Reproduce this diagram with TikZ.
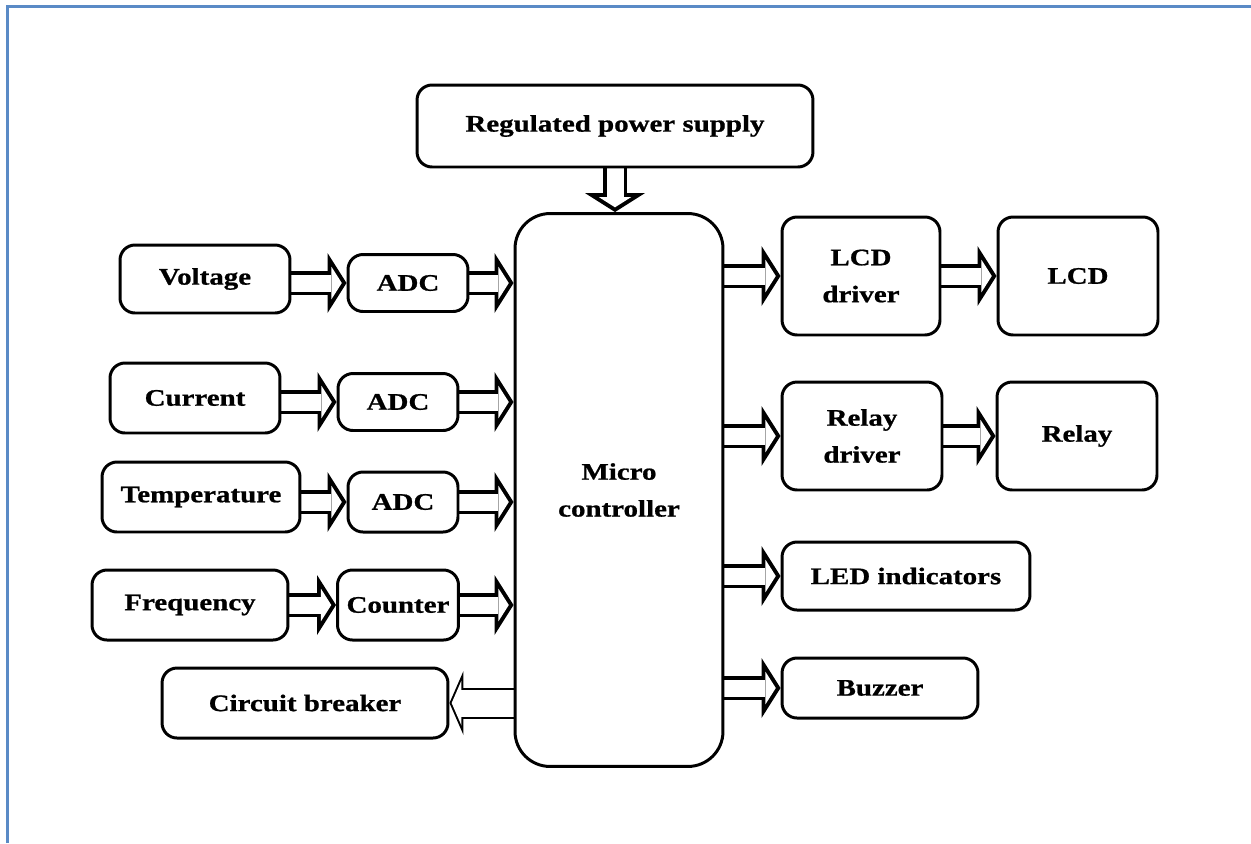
\documentclass[tikz,border=0pt]{standalone}
\usepackage{fontspec}
\newfontfamily\blockfont{Liberation Serif}[FakeStretch=1.22,BoldFeatures={FakeBold=0.8}]
\usepackage{tikz}
\usetikzlibrary{arrows.meta,positioning,calc,backgrounds}
\definecolor{pageblue}{HTML}{5A8AC6}
\tikzset{
  % blokker
  blk/.style={draw,rounded corners=0.3cm,line width=1.7pt,inner sep=0pt,
              align=center,font=\blockfont\bfseries\fontsize{13.5}{21}\selectfont},
  sz/.style 2 args={minimum width=#1cm,minimum height=#2cm},
  mcu/.style={blk,rounded corners=0.7cm},
  % pile (hule blokkpiler)
  dbl/.style={draw,line width=0.48cm,
              -{Triangle[length=0.38cm,width=1.2cm,line width=0pt]},
              postaction={draw=white,line width=0.34cm,shorten >=0.095cm,
              -{Triangle[length=0.206cm,width=0.65cm,line width=0pt]}}},
  dblthin/.style={draw,line width=0.62cm,
              -{Triangle[length=0.28cm,width=1.28cm,line width=0pt]},
              postaction={draw=white,line width=0.54cm,shorten >=0.044cm,
              -{Triangle[length=0.196cm,width=0.9cm,line width=0pt]}}},
  frame/.style={draw=pageblue,line width=1.6pt},
}
\begin{document}
\begin{tikzpicture}[x=0.02cm,y=-0.02cm]
  \useasboundingbox (0,0) rectangle (1251,843);
  \draw[frame] (7.5,843) -- (7.5,6.5) -- (1251,6.5);
  \node[blk,sz={7.92}{1.64}] (rps) at (615,126) {Regulated power supply};
  \node[mcu,sz={4.16}{11.06}] (mc) at (619,490) {Micro\\controller};
  \node[blk,sz={3.4}{1.36}] (volt) at (205,279) {Voltage};
  \node[blk,sz={2.4}{1.14}] (adc1) at (408,283) {ADC};
  \node[blk,sz={3.4}{1.4}] (curr) at (195,398) {Current};
  \node[blk,sz={2.4}{1.14}] (adc2) at (398,402) {ADC};
  \node[blk,sz={3.96}{1.4}] (temp) at (201,497) {Temperature};
  \node[blk,sz={2.2}{1.2}] (adc3) at (403,502) {ADC};
  \node[blk,sz={3.92}{1.4}] (freq) at (190,605) {Frequency};
  \node[blk,sz={2.42}{1.4}] (cntr) at (398,605) {Counter};
  \node[blk,sz={5.72}{1.4}] (cb) at (305,703) {Circuit breaker};
  \node[blk,sz={3.16}{2.36}] (lcdd) at (861,276) {LCD\\driver};
  \node[blk,sz={3.2}{2.36}] (lcd) at (1078,276) {LCD};
  \node[blk,sz={3.2}{2.16}] (rlyd) at (862,436) {Relay\\driver};
  \node[blk,sz={3.2}{2.16}] (rly) at (1077,436) {Relay};
  \node[blk,sz={4.96}{1.36}] (led) at (906,576) {LED indicators};
  \node[blk,sz={3.92}{1.2}] (buzz) at (880,688) {Buzzer};
  \begin{scope}[on background layer]
  % innganger
  \draw[dbl] (rps.south) -- (rps.south |- mc.north);
  \draw[dbl] (volt.east |- adc1.west) -- (adc1.west);
  \draw[dbl] (adc1.east) -- (adc1.east -| mc.west);
  \draw[dbl] (curr.east |- adc2.west) -- (adc2.west);
  \draw[dbl] (adc2.east) -- (adc2.east -| mc.west);
  \draw[dbl] (temp.east |- adc3.west) -- (adc3.west);
  \draw[dbl] (adc3.east) -- (adc3.east -| mc.west);
  \draw[dbl] (freq.east) -- (cntr.west);
  \draw[dbl] (cntr.east) -- (cntr.east -| mc.west);
  % utganger
  \draw[dblthin] (mc.west |- cb.east) -- (cb.east);
  \draw[dbl] (mc.east |- lcdd.west) -- (lcdd.west);
  \draw[dbl] (lcdd.east) -- (lcd.west);
  \draw[dbl] (mc.east |- rlyd.west) -- (rlyd.west);
  \draw[dbl] (rlyd.east) -- (rly.west);
  \draw[dbl] (mc.east |- led.west) -- (led.west);
  \draw[dbl] (mc.east |- buzz.west) -- (buzz.west);
  \end{scope}
\end{tikzpicture}
\end{document}
